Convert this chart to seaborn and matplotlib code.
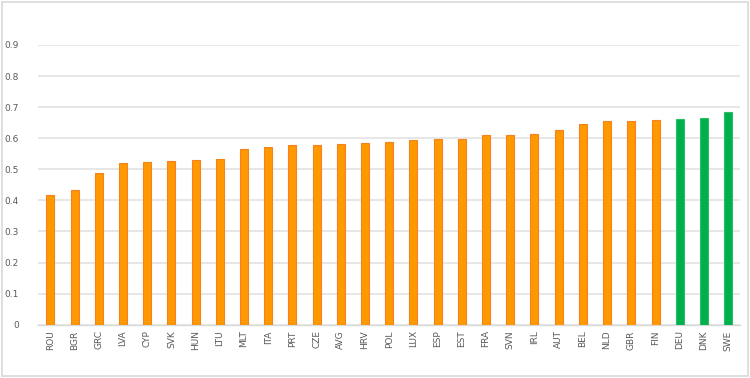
import matplotlib
matplotlib.use("Agg")
import matplotlib.pyplot as plt
import seaborn as sns
import pandas as pd
from matplotlib.patches import Rectangle

# Country codes and scores
countries = ["ROU", "BGR", "GRC", "LVA", "CYP", "SVK", "HUN", "LTU", "MLT", "ITA",
             "PRT", "CZE", "AVG", "HRV", "POL", "LUX", "ESP", "EST", "FRA", "SVN",
             "IRL", "AUT", "BEL", "NLD", "GBR", "FIN", "DEU", "DNK", "SWE"]
scores = [0.417, 0.433, 0.489, 0.521, 0.522, 0.527, 0.529, 0.532, 0.566, 0.572,
          0.577, 0.577, 0.582, 0.585, 0.587, 0.594, 0.596, 0.597, 0.609, 0.610,
          0.614, 0.625, 0.645, 0.656, 0.657, 0.658, 0.661, 0.666, 0.685]
top_group = ["DEU", "DNK", "SWE"]
y_ticks = [0, 0.1, 0.2, 0.3, 0.4, 0.5, 0.6, 0.7, 0.8, 0.9]

df = pd.DataFrame({"country": countries, "score": scores})
palette = {c: ("#00B050" if c in top_group else "#FF9900") for c in countries}
edges = ["#2DBE62" if c in top_group else "#F5821F" for c in countries]

sns.set_style("white")
fig = plt.figure(figsize=(7.5, 3.78), dpi=100)
ax = fig.add_axes([0.051, 0.141, 0.936, 0.74])

sns.barplot(data=df, x="country", y="score", hue="country", palette=palette,
            legend=False, width=0.33, saturation=1, ax=ax, zorder=3)
for bar, ec in zip(ax.patches, edges):
    bar.set_edgecolor(ec)
    bar.set_linewidth(0.8)

ax.set_ylim(0, 0.9)
ax.set_xlim(-0.5, len(countries) - 0.5)
ax.set_yticks(y_ticks)
ax.set_yticklabels([f"{t:g}" for t in y_ticks])
ax.yaxis.grid(True, color="#E3E3E3", linewidth=1.2, zorder=0)
ax.set_xlabel("")
ax.set_ylabel("")
ax.tick_params(axis="x", rotation=90, labelsize=6.5, colors="#595959", length=0, pad=4)
ax.tick_params(axis="y", labelsize=6.5, colors="#595959", length=0, pad=14)
for side in ["top", "right", "left"]:
    ax.spines[side].set_visible(False)
ax.spines["bottom"].set_color("#D9D9D9")
ax.spines["bottom"].set_linewidth(1)

# light frame around the whole chart
fig.patches.append(Rectangle((0.003, 0.005), 0.994, 0.99, transform=fig.transFigure,
                             fill=False, edgecolor="#D9D9D9", linewidth=1.2))

fig.savefig("out.png", dpi=100)
